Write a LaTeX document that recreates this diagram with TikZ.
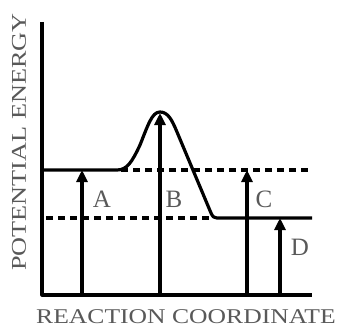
\documentclass[tikz,border=0pt]{standalone}
\usepackage{fontspec}
\setmainfont{Liberation Serif}
\usetikzlibrary{arrows.meta}
\begin{document}
\begin{tikzpicture}[x=1pt,y=-1pt,
  thickline/.style={line width=3.2pt,line join=round},
  dotline/.style={line width=3.2pt,dash pattern=on 7pt off 5pt},
  uparrow/.style={line width=3.2pt,-{Triangle[length=12pt,width=11pt]}},
  lbl/.style={text=black!65,font=\fontsize{25}{25}\selectfont,inner sep=0pt},
  axlbl/.style={text=black!65,font=\fontsize{21}{21}\selectfont,inner sep=0pt}]
\useasboundingbox (0,0) rectangle (340,329);
% axes
\coordinate (ytop) at (42,22);
\coordinate (origin) at (42,295);
\coordinate (xend) at (312,295);
\draw[thickline] (ytop) -- (origin) -- (xend);
% energy profile
\coordinate (rstart) at (42,170);
\coordinate (rend) at (117,170);
\coordinate (peak) at (160,112);
\coordinate (pcorner) at (217,218);
\coordinate (pend) at (312,218);
\draw[thickline] (rstart) -- (rend)
  .. controls (127,170) and (132,162) .. (140,145)
  .. controls (148,125) and (152,112) .. (peak)
  .. controls (168,112) and (172,120) .. (177,132)
  -- (211,213) .. controls (213,217) .. (pcorner) -- (pend);
% dotted levels
\coordinate (d1a) at (121,170);
\coordinate (d1b) at (310,170);
\coordinate (d2a) at (46,218);
\coordinate (d2b) at (213,218);
\draw[dotline] (d1a) -- (d1b);
\draw[dotline] (d2a) -- (d2b);
% arrows
\coordinate (a0) at (82,295);  \coordinate (a1) at (82,170);
\coordinate (b0) at (160,295); \coordinate (b1) at (160,113);
\coordinate (c0) at (247,295); \coordinate (c1) at (247,170);
\coordinate (e0) at (280,295); \coordinate (e1) at (280,218);
\draw[uparrow] (a0) -- (a1);
\draw[uparrow] (b0) -- (b1);
\draw[uparrow] (c0) -- (c1);
\draw[uparrow] (e0) -- (e1);
% letters
\node[lbl] (A) at (102,199) {A};
\node[lbl] (B) at (174,199) {B};
\node[lbl] (C) at (264,199) {C};
\node[lbl] (D) at (300,247) {D};
% axis labels
\node[axlbl] (xl) at (186,317) {\scalebox{1.22}[1]{REACTION COORDINATE}};
\node[axlbl,rotate=90] (yl) at (19,142) {\scalebox{1.25}[1]{POTENTIAL ENERGY}};
\end{tikzpicture}
\end{document}
